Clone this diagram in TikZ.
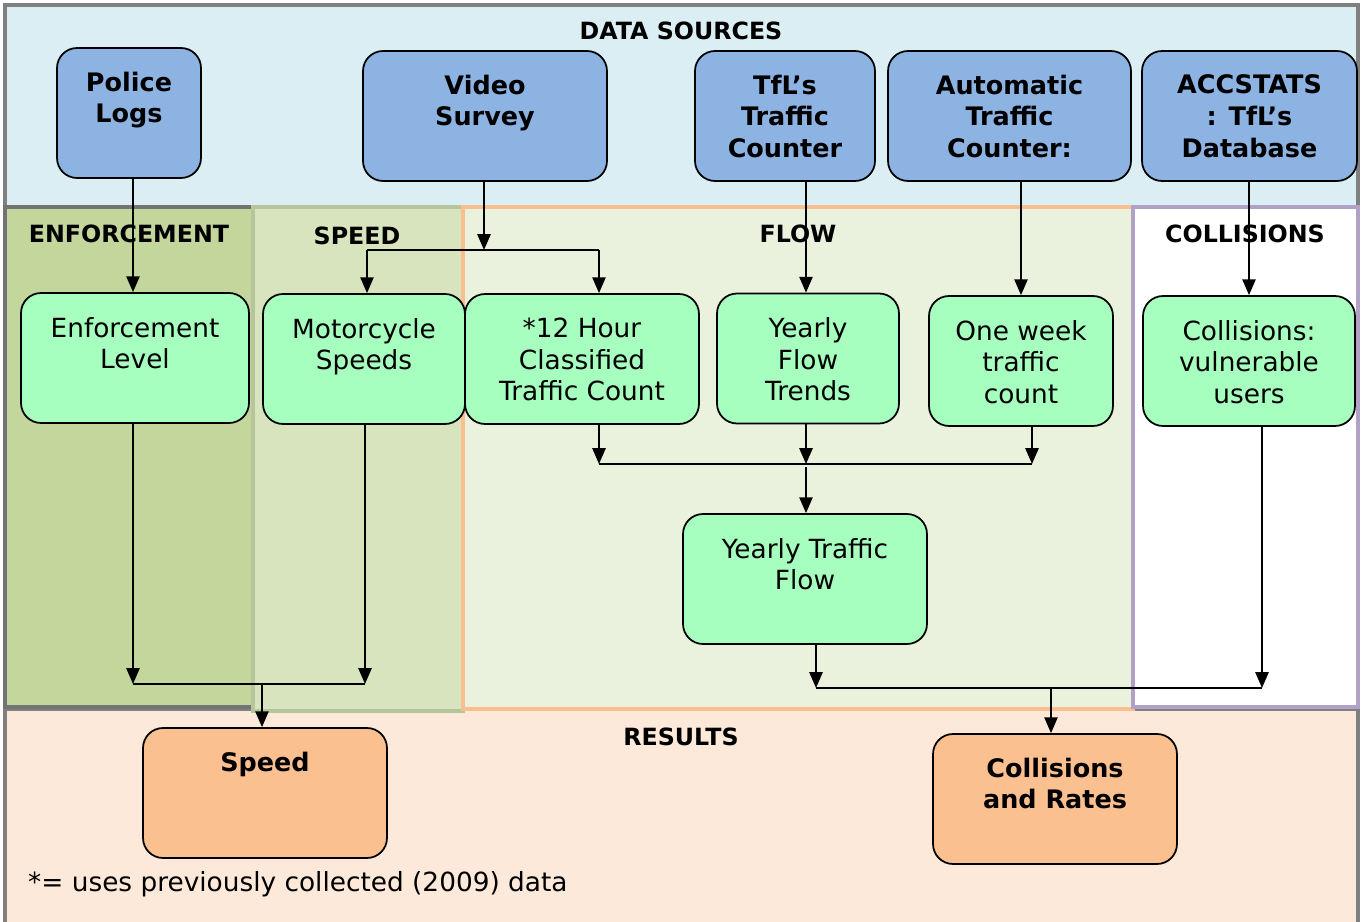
\documentclass[tikz,border=0pt]{standalone}
\usepackage{fontspec}
\setmainfont{DejaVu Sans}
\usepackage{tikz}
\usetikzlibrary{positioning}
\usetikzlibrary{arrows.meta}
\usetikzlibrary{calc}
\definecolor{cSrcBand}{HTML}{DAEEF3}
\definecolor{cResBand}{HTML}{FDE9D9}
\definecolor{cEnfBand}{HTML}{C3D69B}
\definecolor{cSpdBand}{HTML}{D7E4BD}
\definecolor{cFlowBand}{HTML}{EAF1DD}
\definecolor{cFlowEdge}{HTML}{F9BF8F}
\definecolor{cCollEdge}{HTML}{B2A1C7}
\definecolor{cSpdEdge}{HTML}{B5C79A}
\definecolor{cSrc}{HTML}{8DB3E2}
\definecolor{cStep}{HTML}{A6FFBF}
\definecolor{cRes}{HTML}{FAC090}
\tikzstyle{flowArrow} = [line width=1.1pt, -{Triangle[length=9pt,width=7.5pt]}]
\tikzstyle{flowLine}  = [line width=1.1pt]
\tikzstyle{band}      = [line width=2pt]
\tikzstyle{srcBox}    = [draw, line width=1pt, rounded corners=0.4cm, fill=cSrc,  inner xsep=0pt, inner ysep=0.48cm, font=\fontsize{14.5}{18}\selectfont\bfseries]
\tikzstyle{stepBox}   = [draw, line width=1pt, rounded corners=0.4cm, fill=cStep, inner xsep=0pt, inner ysep=0.48cm, font=\fontsize{15}{18}\selectfont]
\tikzstyle{resBox}    = [draw, line width=1pt, rounded corners=0.4cm, fill=cRes,  inner xsep=0pt, inner ysep=0.48cm, font=\fontsize{14.5}{18}\selectfont\bfseries]
\tikzstyle{bandTitle} = [font=\fontsize{13.5}{16}\selectfont\bfseries]
\newcommand{\boxText}[2]{\parbox[c][1.64cm][t]{#1}{\centering #2}}

\begin{document}
\begin{tikzpicture}[x=0.02cm,y=-0.02cm]
\useasboundingbox (0,0) rectangle (1363,922);
% bands
\draw[band, draw=gray,          fill=cSrcBand]  (5,5)     rectangle (1358,207);
\draw[band, draw=gray,          fill=cResBand]  (5,709)   rectangle (1358,930);
\draw[band, draw=gray!90!black, fill=cEnfBand]  (5,207)   rectangle (253,707);
\draw[band, draw=cSpdEdge,      fill=cSpdBand]  (253,207) rectangle (463,711);
\draw[band, draw=cFlowEdge,     fill=cFlowBand] (463,207) rectangle (1133,709);
\draw[band, draw=cCollEdge,     fill=white]     (1133,207) rectangle (1358,707);
\node at (681,31)  [bandTitle] (tSources)    {DATA SOURCES};
\node at (129,234) [bandTitle] (tEnforce)    {ENFORCEMENT};
\node at (357,236) [bandTitle] (tSpeed)      {SPEED};
\node at (798,234) [bandTitle] (tFlow)       {FLOW};
\node at (1245,234)[bandTitle] (tCollisions) {COLLISIONS};
\node at (681,737) [bandTitle] (tResults)    {RESULTS};
% data sources
\node at (129,113)    [srcBox]  (nPolice) {\boxText{2.88cm}{Police\\Logs}};
\node at (485,116)    [srcBox]  (nVideo)  {\boxText{4.88cm}{Video\\Survey}};
\node at (785,116)    [srcBox]  (nTfL)    {\boxText{3.60cm}{TfL’s\\Traffic\\Counter}};
\node at (1009.5,116) [srcBox]  (nAuto)   {\boxText{4.86cm}{Automatic\\Traffic\\Counter:}};
\node at (1249.5,116) [srcBox]  (nAcc)    {\boxText{4.30cm}{ACCSTATS\\: TfL’s\\Database}};
% processing steps
\node at (135,358)    [stepBox] (nEnf)    {\boxText{4.56cm}{Enforcement\\Level}};
\node at (364,359)    [stepBox] (nMoto)   {\boxText{4.04cm}{Motorcycle\\Speeds}};
\node at (582,359)    [stepBox] (nHour)   {\boxText{4.68cm}{*12 Hour\\Classified\\Traffic Count}};
\node at (808,358.5)  [stepBox] (nTrend)  {\boxText{3.64cm}{Yearly\\Flow\\Trends}};
\node at (1021,361)   [stepBox] (nWeek)   {\boxText{3.68cm}{One week\\traffic\\count}};
\node at (1249,361)   [stepBox] (nColl)   {\boxText{4.24cm}{Collisions:\\vulnerable\\users}};
\node at (805,579)    [stepBox] (nYearly) {\boxText{4.88cm}{Yearly Traffic\\Flow}};
% results
\node at (265,793)    [resBox]  (nSpeed)  {\boxText{4.88cm}{Speed}};
\node at (1055,799)   [resBox]  (nRates)  {\boxText{4.88cm}{Collisions\\and Rates}};
\node at (22,884) [anchor=west, font=\fontsize{15}{18}\selectfont] (nNote) {*= uses previously collected (2009) data};
% junctions
\coordinate (cVid)  at (484,250);
\coordinate (cVidL) at (367,250);
\coordinate (cVidR) at (599,250);
\coordinate (cFlowL) at (599,464);
\coordinate (cFlowM) at (806,464);
\coordinate (cFlowR) at (1032,464);
\coordinate (cSpdL) at (133,684);
\coordinate (cSpdM) at (262,684);
\coordinate (cSpdR) at (365,684);
\coordinate (cColL) at (816,688);
\coordinate (cColM) at (1051,688);
\coordinate (cColR) at (1262,688);
% connectors
\draw[flowArrow] (cSpdL |- nPolice.south) -- (cSpdL |- nEnf.north);
\draw[flowArrow] (cVid |- nVideo.south)   -- (cVid);
\draw[flowLine]  (cVidL) -- (cVidR);
\draw[flowArrow] (cVidL) -- (cVidL |- nMoto.north);
\draw[flowArrow] (cVidR) -- (cVidR |- nHour.north);
\draw[flowArrow] (cFlowM |- nTfL.south)  -- (cFlowM |- nTrend.north);
\draw[flowArrow] (nWeek |- nAuto.south)  -- (nWeek.north);
\draw[flowArrow] (nColl |- nAcc.south)   -- (nColl.north);
\draw[flowArrow] (cFlowL |- nHour.south)  -- (cFlowL);
\draw[flowArrow] (cFlowM |- nTrend.south) -- (cFlowM);
\draw[flowArrow] (cFlowR |- nWeek.south)  -- (cFlowR);
\draw[flowLine]  (cFlowL) -- (cFlowR);
\draw[flowArrow] ($(cFlowM)+(0,3)$) -- (cFlowM |- nYearly.north);
\draw[flowArrow] (cSpdL |- nEnf.south)  -- (cSpdL);
\draw[flowArrow] (cSpdR |- nMoto.south) -- (cSpdR);
\draw[flowLine]  (cSpdL) -- (cSpdR);
\draw[flowArrow] (cSpdM) -- (cSpdM |- nSpeed.north);
\draw[flowArrow] (cColL |- nYearly.south) -- (cColL);
\draw[flowArrow] (cColR |- nColl.south)   -- (cColR);
\draw[flowLine]  (cColL) -- (cColR);
\draw[flowArrow] (cColM) -- (cColM |- nRates.north);
\end{tikzpicture}
\end{document}
